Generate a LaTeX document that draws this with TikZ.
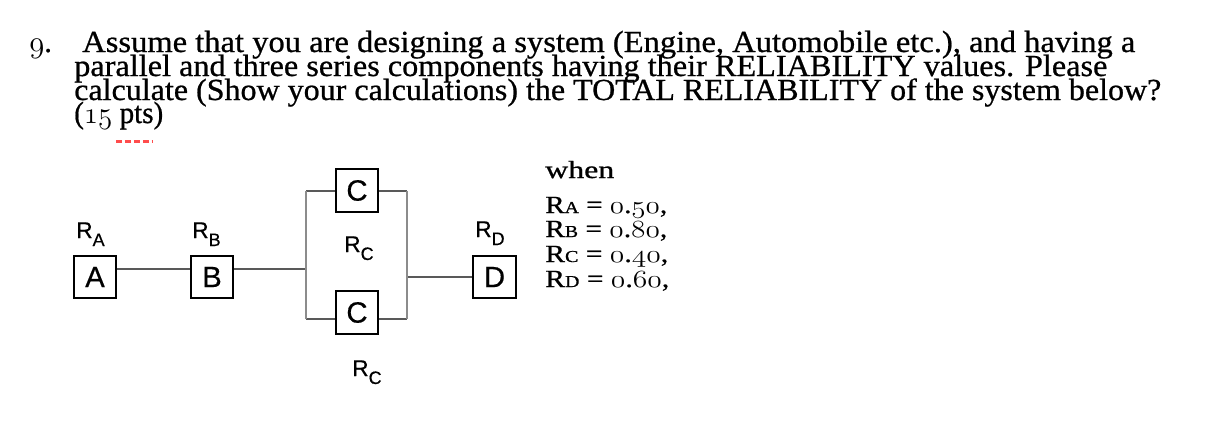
\documentclass[tikz,border=0pt]{standalone}
\usepackage{fix-cm}
\usepackage{fontspec}
\usepackage{graphicx}
\setmainfont{Liberation Serif}[FakeBold=0.7]
\newfontfamily\diagfont{Liberation Sans}[FakeBold=0.5]
\newcommand{\osn}[1]{{\usefont{OML}{cmm}{m}{it}#1}}
\newcommand{\rsub}[1]{\raisebox{-6pt}{\fontsize{13.5}{13.5}\selectfont #1}}
\newcommand{\vsub}[1]{{\fontsize{12.5}{12.5}\selectfont #1}}
\begin{document}
\begin{tikzpicture}[x=0.75pt,y=-0.75pt,
  comp/.style={draw=black, line width=1.7pt, minimum width=32pt, minimum height=32pt, inner sep=0pt, fill=white, font=\diagfont\fontsize{22}{22}\selectfont},
  rlab/.style={anchor=base west, inner sep=0pt, font=\diagfont\fontsize{17}{17}\selectfont},
  ttl/.style={anchor=base west, inner sep=0pt, font=\fontsize{23}{24}\selectfont},
  val/.style={anchor=base west, inner sep=0pt, font=\fontsize{18.5}{20}\selectfont},
  conn/.style={draw=black!65, line width=1.1pt},
  bus/.style={draw=black!45, line width=1.9pt}]
\useasboundingbox[fill=white] (0,0) rectangle (1214,422);

% question text
\node[ttl] (n9) at (29,52) {\osn{9}.};
\node[ttl] (t1) at (82,52) {\resizebox{789.75pt}{\height}{Assume that you are designing a system (Engine, Automobile etc.), and having a}};
\node[ttl] (t2) at (74,76) {\resizebox{774.75pt}{\height}{parallel and three series components having their RELIABILITY values. Please}};
\node[ttl] (t3) at (74,100) {\resizebox{815.25pt}{\height}{calculate (Show your calculations) the TOTAL RELIABILITY of the system below?}};
\node[ttl] (t4) at (74,123) {\resizebox{66.75pt}{\height}{(\osn{15} pts)}};
\draw[red!70!white, line width=2.4pt, dash pattern=on 4.5pt off 2.2pt] (116,141.5) -- (153,141.5);

% components
\node[comp] (A) at (95,277) {A};
\node[comp] (B) at (212,277) {B};
\node[comp] (C1) at (357,190.5) {C};
\node[comp] (C2) at (357,312.5) {C};
\node[comp] (D) at (494.5,277) {D};

\coordinate (PL1) at (306,191);
\coordinate (PL2) at (306,319);
\coordinate (PR1) at (407,191);
\coordinate (PR2) at (407,319);

% connectors
\draw[conn] ([yshift=6pt]A.east) -- ([yshift=6pt]B.west);
\draw[conn] ([yshift=6pt]B.east) -- ([yshift=6pt]B.east -| PL1);
\draw[conn] (PL1) -- (PL1 -| C1.west);
\draw[conn] (C1.east |- PR1) -- (PR1);
\draw[conn] (PL2) -- (PL2 -| C2.west);
\draw[conn] (C2.east |- PR2) -- (PR2);
\draw[conn] (D.west) -- (D.west -| PR1);
\draw[bus] (PL1) -- (PL2);
\draw[bus] (PR1) -- (PR2);

% reliability labels
\node[rlab] (la) at (76,238) {R\rsub{A}};
\node[rlab] (lb) at (192,238) {R\rsub{B}};
\node[rlab] (lc1) at (344,252) {R\rsub{C}};
\node[rlab] (ld) at (475,237) {R\rsub{D}};
\node[rlab] (lc2) at (352,376) {R\rsub{C}};

% values
\node[val] (w) at (545,178) {\resizebox{51.75pt}{\height}{when}};
\node[val] (va) at (545,213) {\resizebox{91.5pt}{\height}{R\vsub{A} = \osn{0}.\osn{50},}};
\node[val] (vb) at (545,237) {\resizebox{91.5pt}{\height}{R\vsub{B} = \osn{0}.\osn{80},}};
\node[val] (vc) at (545,262) {\resizebox{92.25pt}{\height}{R\vsub{C} = \osn{0}.\osn{40},}};
\node[val] (vd) at (545,287) {\resizebox{93pt}{\height}{R\vsub{D} = \osn{0}.\osn{60},}};
\end{tikzpicture}
\end{document}
